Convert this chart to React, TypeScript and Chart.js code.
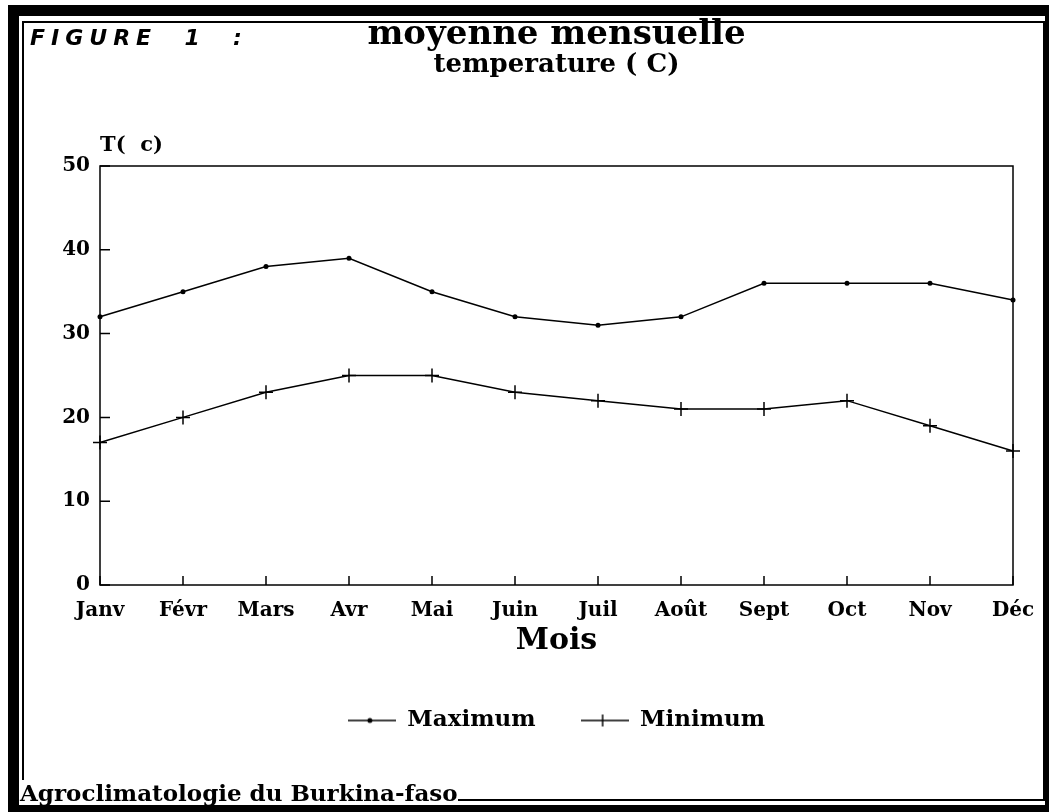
import React, { useEffect, useRef } from "react";
import { Chart, registerables } from "chart.js";

Chart.register(...registerables);

const months = ["Janv", "Févr", "Mars", "Avr", "Mai", "Juin", "Juil", "Août", "Sept", "Oct", "Nov", "Déc"];
const maximum = [32, 35, 38, 39, 35, 32, 31, 32, 36, 36, 36, 34];
const minimum = [17, 20, 23, 25, 25, 23, 22, 21, 21, 22, 19, 16];
const seriesNames = ["Maximum", "Minimum"];

const SERIF = '"DejaVu Serif", "Liberation Serif", serif';

function legendIcon(kind: string) {
  const c = document.createElement("canvas");
  c.width = 48;
  c.height = 16;
  const ctx = c.getContext("2d")!;
  ctx.strokeStyle = "#000";
  ctx.lineWidth = 1.5;
  ctx.beginPath();
  ctx.moveTo(0, 8);
  ctx.lineTo(48, 8);
  ctx.stroke();
  if (kind === "dot") {
    ctx.fillStyle = "#000";
    ctx.beginPath();
    ctx.arc(22, 8, 2.5, 0, Math.PI * 2);
    ctx.fill();
  } else {
    ctx.beginPath();
    ctx.moveTo(22, 2);
    ctx.lineTo(22, 14);
    ctx.stroke();
  }
  return c;
}

const framePlugin = {
  id: "frameTicks",
  beforeDatasetsDraw(chart: any) {
    const { ctx, chartArea: a, scales } = chart;
    const x = scales.x;
    const y = scales.y;
    ctx.save();
    ctx.strokeStyle = "#000";
    ctx.lineWidth = 1.5;
    ctx.strokeRect(a.left, a.top, a.right - a.left, a.bottom - a.top);
    ctx.beginPath();
    y.ticks.forEach((t: any) => {
      const py = y.getPixelForValue(t.value);
      ctx.moveTo(a.left, py);
      ctx.lineTo(a.left + 10, py);
    });
    x.ticks.forEach((_t: any, i: number) => {
      const px = x.getPixelForTick(i);
      ctx.moveTo(px, a.bottom);
      ctx.lineTo(px, a.bottom - 9);
    });
    ctx.stroke();
    ctx.restore();
  },
};

export default function App() {
  const ref = useRef<HTMLCanvasElement | null>(null);

  useEffect(() => {
    if (!ref.current) return;
    const icons = [legendIcon("dot"), legendIcon("cross")];
    const chart = new Chart(ref.current, {
      type: "line",
      data: {
        labels: months,
        datasets: [
          {
            label: seriesNames[0],
            data: maximum,
            borderColor: "#000",
            backgroundColor: "#000",
            borderWidth: 1.5,
            pointStyle: "circle",
            pointRadius: 2.5,
            pointBorderWidth: 0,
            tension: 0,
            fill: false,
          },
          {
            label: seriesNames[1],
            data: minimum,
            borderColor: "#000",
            backgroundColor: "#000",
            borderWidth: 1.5,
            pointStyle: "cross",
            pointRadius: 7,
            pointBorderWidth: 1.5,
            tension: 0,
            fill: false,
          },
        ],
      },
      options: {
        responsive: false,
        animation: false,
        layout: { padding: { top: 0, left: 0, right: 36, bottom: 70 } },
        scales: {
          x: {
            offset: false,
            grid: { display: false, drawTicks: false },
            border: { display: false },
            ticks: {
              color: "#000",
              autoSkip: false,
              maxRotation: 0,
              padding: 14,
              font: { family: SERIF, size: 20, weight: "bold" },
            },
            title: {
              display: true,
              text: "Mois",
              color: "#000",
              font: { family: SERIF, size: 30, weight: "bold" },
              padding: { top: 0, bottom: 5 },
            },
            afterFit(scale: any) {
              scale.paddingLeft = 0;
              scale.paddingRight = 0;
              scale.height = scale.height - 14;
            },
          },
          y: {
            min: 0,
            max: 50,
            grid: { display: false, drawTicks: false },
            border: { display: false },
            ticks: {
              stepSize: 10,
              color: "#000",
              padding: 10,
              font: { family: SERIF, size: 20, weight: "bold" },
            },
            afterFit(scale: any) {
              scale.width = 100;
              scale.paddingTop = 0;
              scale.paddingBottom = 0;
            },
          },
        },
        plugins: {
          title: {
            display: true,
            text: "moyenne mensuelle",
            fullSize: false,
            color: "#000",
            font: { family: SERIF, size: 34, weight: "bold", lineHeight: 1 },
            padding: { top: 18, bottom: 0 },
          },
          subtitle: {
            display: true,
            text: "temperature ( C)",
            fullSize: false,
            color: "#000",
            font: { family: SERIF, size: 26, weight: "bold", lineHeight: 1 },
            padding: { top: 0, bottom: 88 },
          },
          legend: {
            display: true,
            position: "bottom",
            fullSize: false,
            labels: {
              color: "#000",
              usePointStyle: true,
              pointStyleWidth: 48,
              padding: 45,
              font: { family: SERIF, size: 23, weight: "bold" },
              generateLabels(c: any) {
                const items = (Chart as any).defaults.plugins.legend.labels.generateLabels(c);
                items.forEach((it: any, i: number) => {
                  it.pointStyle = icons[i];
                });
                return items;
              },
            },
          },
          tooltip: { enabled: false },
        },
      },
      plugins: [framePlugin],
    } as any);
    return () => chart.destroy();
  }, []);

  const band = (s: React.CSSProperties) => (
    <div style={{ position: "absolute", background: "#000", ...s }} />
  );

  return (
    <div
      style={{
        position: "fixed",
        left: 0,
        top: 0,
        width: 1049,
        height: 812,
        background: "#fff",
        overflow: "hidden",
      }}
    >
      <canvas ref={ref} width={1049} height={812} style={{ position: "absolute", left: 0, top: 0 }} />
      {band({ left: 8, top: 5, width: 1041, height: 11 })}
      {band({ left: 8, top: 5, width: 11, height: 807 })}
      {band({ left: 8, top: 805, width: 1041, height: 7 })}
      {band({ left: 1045, top: 5, width: 4, height: 807 })}
      <div
        style={{
          position: "absolute",
          left: 22,
          top: 21,
          width: 1019,
          height: 776,
          border: "2px solid #000",
          pointerEvents: "none",
        }}
      />
      <div
        style={{
          position: "absolute",
          left: 30,
          top: 25,
          fontFamily: '"DejaVu Sans", sans-serif',
          fontStyle: "italic",
          fontWeight: "bold",
          fontSize: 22,
          letterSpacing: 6,
          color: "#000",
          whiteSpace: "nowrap",
        }}
      >
        FIGURE&nbsp;&nbsp;1&nbsp;&nbsp;:
      </div>
      <div
        style={{
          position: "absolute",
          left: 100,
          top: 131,
          fontFamily: SERIF,
          fontWeight: "bold",
          fontSize: 21,
          color: "#000",
          whiteSpace: "nowrap",
        }}
      >
        T(&nbsp;&nbsp;c)
      </div>
      <div
        style={{
          position: "absolute",
          left: 20,
          top: 780,
          fontFamily: SERIF,
          fontWeight: "bold",
          fontSize: 23,
          color: "#000",
          whiteSpace: "nowrap",
          background: "#fff",
          lineHeight: "25px",
        }}
      >
        Agroclimatologie du Burkina-faso
      </div>
    </div>
  );
}
